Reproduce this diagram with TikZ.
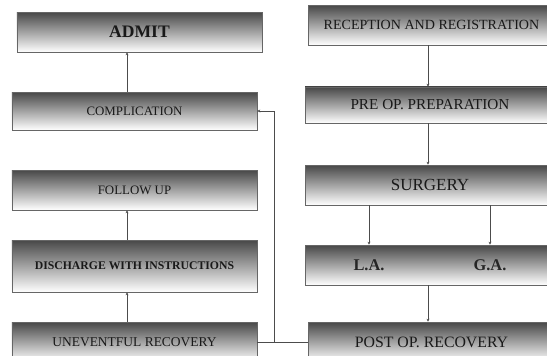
\documentclass[tikz,border=0pt]{standalone}
\usepackage{fontspec}
\setmainfont{Liberation Serif}
\usetikzlibrary{arrows.meta, positioning, calc}

\begin{document}
\begin{tikzpicture}[
  stagebox/.style={rectangle, draw=black!60, line width=0.6pt, shading=axis,
                   top color=black!72, bottom color=white, text=black!90,
                   minimum height=1.2cm, inner sep=1pt},
  lbox/.style={stagebox, minimum width=7.35cm},
  rbox/.style={stagebox, minimum width=7.5cm},
  anelbl/.style={font=\fontsize{14}{15}\selectfont\bfseries, text=black!85},
  arr/.style={draw, black!70, line width=0.6pt, -{Stealth[length=2.5pt, width=2.5pt]}},
  ln/.style={draw, black!70, line width=0.6pt}
]

\useasboundingbox (0,0) rectangle (16.41,-10.68);

%% left column
\node[lbox, font=\fontsize{15}{16}\selectfont\bfseries] (admit) at (4.185,-0.96) {ADMIT};
\node[lbox, minimum height=1.14cm, font=\fontsize{11}{12}\selectfont] (comp) at (4.035,-3.33) {COMPLICATION};
\node[lbox, font=\fontsize{11}{12}\selectfont] (follow) at (4.035,-5.7) {FOLLOW UP};
\node[lbox, minimum height=1.56cm, font=\fontsize{10}{12}\selectfont\bfseries] (disch) at (4.035,-7.98) {DISCHARGE WITH INSTRUCTIONS};
\node[lbox, font=\fontsize{11.5}{12}\selectfont] (unev) at (4.035,-10.26) {UNEVENTFUL RECOVERY};

%% right column
\node[rbox, minimum width=7.41cm, font=\fontsize{12}{13}\selectfont] (recep) at (12.945,-0.75) {RECEPTION AND REGISTRATION};
\node[rbox, minimum height=1.08cm, font=\fontsize{13}{14}\selectfont] (preop) at (12.9,-3.15) {PRE OP. PREPARATION};
\node[rbox, font=\fontsize{14.5}{15}\selectfont] (surg) at (12.9,-5.55) {SURGERY};
\node[rbox] (anes) at (12.9,-7.95) {};
\node[anelbl] (la) at (11.07,-7.95) {L.A.};
\node[anelbl] (ga) at (14.7,-7.95) {G.A.};
\node[rbox, minimum width=7.41cm, font=\fontsize{13.5}{14}\selectfont] (postop) at (12.945,-10.26) {POST OP. RECOVERY};

%% helper columns
\coordinate (lcol) at (3.81,0);
\coordinate (rcol) at (12.84,0);
\coordinate (jn) at (8.22,-10.26);

%% connectors
\draw[arr] (comp.north -| lcol) -- (admit.south -| lcol);
\draw[arr] (disch.north -| lcol) -- (follow.south -| lcol);
\draw[arr] (unev.north -| lcol) -- (disch.south -| lcol);

\draw[arr] (recep.south -| rcol) -- (preop.north -| rcol);
\draw[arr] (preop.south -| rcol) -- (surg.north -| rcol);
\draw[arr] (surg.south -| la) -- (anes.north -| la);
\draw[arr] (surg.south -| ga) -- (anes.north -| ga);
\draw[arr] (anes.south -| rcol) -- (postop.north -| rcol);

\draw[ln] (postop.west) -- (unev.east);
\draw[arr] (jn) |- (comp.east);

\end{tikzpicture}
\end{document}
